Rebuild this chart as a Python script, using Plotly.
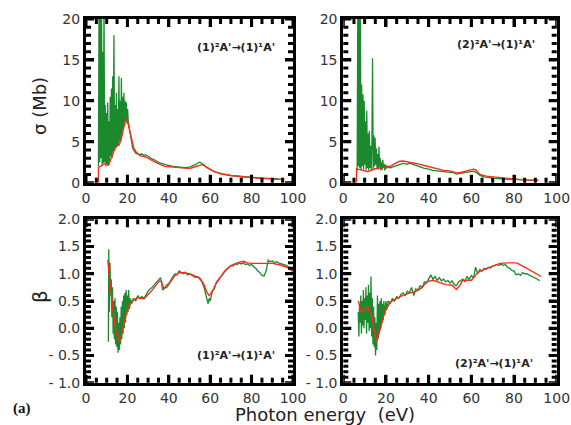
import plotly.graph_objects as go

W, H = 571, 425

# ---------- sigma, (1)2A' -> (1)1A' ----------
s1_green_x = [6.0, 6.3, 6.6, 6.9, 7.2, 7.5, 7.8, 8.1, 8.4, 8.7, 9.0, 9.3, 9.6, 9.9, 10.2, 10.5, 10.8, 11.1,
              11.4, 11.7, 12.0, 12.3, 12.6, 12.9, 13.2, 13.5, 13.8, 14.1, 14.4, 14.7, 15.0, 15.3, 15.6, 15.9,
              16.2, 16.5, 16.8, 17.1, 17.4, 17.7, 18.0, 18.3, 18.6, 18.9, 19.2, 19.5, 19.8, 20.1, 20.4, 20.7,
              21.0, 21.3, 21.6, 22.0, 22.5, 23, 23.5, 24, 25, 26, 27, 28, 29, 30, 31, 32, 33, 34, 35, 36, 37,
              38, 39, 40, 42, 44, 46, 48, 50, 52, 53, 54, 55, 56, 57, 58, 60, 62, 64, 66, 68, 70, 75, 80, 85,
              90, 93]
s1_green_y = [2.0, 22, 2.5, 21, 3.0, 22, 2.2, 16, 2.4, 22, 2.5, 9.5, 2.0, 8.5, 2.3, 9.8, 2.1, 7.5,
              2.6, 10.5, 3.2, 11.5, 3.0, 13.0, 3.8, 18.0, 4.0, 9.5, 4.2, 11.0, 4.5, 9.0, 4.5, 13.0,
              5.0, 10.0, 5.2, 12.8, 5.8, 10.5, 6.5, 11.0, 7.0, 10.0, 7.5, 9.8, 7.2, 9.0, 7.5, 7.0,
              6.8, 5.8, 5.5, 4.8, 4.3, 4.0, 3.8, 3.6, 3.5, 3.45, 3.5, 3.35, 3.4, 3.2, 3.1, 2.9, 2.8, 2.6, 2.5,
              2.4, 2.3, 2.2, 2.15, 2.1, 2.0, 1.95, 1.9, 1.85, 1.9, 2.05, 2.2, 2.4, 2.5, 2.35, 2.2, 1.9, 1.6,
              1.35, 1.2, 1.05, 0.95, 0.88, 0.75, 0.62, 0.55, 0.5, 0.48]
s1_red_x = [6.0, 6.0, 7, 8, 9, 10, 10.5, 11, 12, 13, 14, 15, 16, 17, 18, 19, 19.5, 20, 21, 22, 23, 24, 25,
            26, 28, 30, 32, 34, 36, 38, 40, 43, 46, 49, 51, 53, 55, 56, 57, 58, 60, 62, 65, 68, 70, 75, 80,
            85, 90, 95]
s1_red_y = [0, 1.9, 2.0, 2.2, 2.35, 2.3, 2.15, 2.2, 2.8, 3.6, 4.2, 4.5, 4.6, 5.3, 6.5, 7.6, 7.8, 7.6, 6.5,
            5.3, 4.3, 3.8, 3.5, 3.3, 3.2, 3.0, 2.7, 2.4, 2.2, 2.0, 1.95, 1.85, 1.75, 1.75, 1.8, 1.95, 2.15,
            2.2, 2.1, 1.95, 1.6, 1.35, 1.1, 0.95, 0.88, 0.72, 0.6, 0.5, 0.45, 0.42]

# ---------- sigma, (2)2A' -> (1)1A' ----------
s2_green_x = [6.5, 6.8, 7.1, 7.4, 7.7, 8.0, 8.3, 8.6, 8.9, 9.2, 9.5, 9.8, 10.1, 10.4, 10.7, 11.0, 11.3,
              11.6, 11.9, 12.2, 12.5, 12.8, 13.1, 13.4, 13.7, 14.0, 14.3, 14.6, 14.9, 15.2, 15.5, 15.8,
              16.1, 16.4, 16.7, 17.0, 17.3, 17.6, 17.9, 18.2, 18.5, 18.8, 19.1, 19.4, 19.7, 20.0, 20.5,
              21, 21.5, 22, 23, 24, 25, 26, 27, 28, 29, 30, 31, 32, 33, 34, 35, 36, 38, 40, 42, 44, 46,
              48, 50, 52, 53, 54, 56, 58, 60, 61, 62, 64, 66, 68, 70, 75, 80, 85, 90]
s2_green_y = [1.5, 22, 2.0, 22, 1.8, 22, 1.5, 12.0, 2.0, 10.8, 1.6, 10.0, 2.2, 7.5, 1.5, 8.8, 1.8,
              6.0, 1.5, 6.3, 1.8, 4.5, 1.5, 5.0, 15.2, 1.6, 5.8, 2.0, 5.5, 2.2, 4.2, 1.8,
              3.5, 1.6, 4.4, 1.9, 3.0, 1.5, 2.5, 1.6, 2.8, 1.8, 2.3, 1.5, 2.2, 1.7, 2.1,
              1.8, 2.0, 1.8, 1.9, 2.0, 2.1, 2.2, 2.3, 2.35, 2.3, 2.25, 2.4, 2.3, 2.15, 2.05, 1.95, 1.85,
              1.75, 1.65, 1.5, 1.45, 1.4, 1.35, 1.3, 1.2, 1.05, 1.1, 1.2, 1.3, 1.4, 1.42, 1.3, 0.9, 0.72,
              0.62, 0.55, 0.45, 0.38, 0.32, 0.28]
s2_red_x = [6.2, 6.2, 8, 10, 11.5, 13, 15, 17, 20, 22, 24, 26, 28, 30, 32, 35, 38, 41, 44, 47, 50, 53,
            55, 58, 61, 62, 64, 67, 70, 75, 80, 85, 91.5]
s2_red_y = [0, 1.7, 1.6, 1.45, 1.35, 1.5, 1.7, 1.8, 1.9, 2.0, 2.3, 2.6, 2.65, 2.55, 2.5, 2.3, 2.1, 1.9,
            1.65, 1.5, 1.45, 1.2, 1.25, 1.45, 1.65, 1.6, 1.0, 0.8, 0.7, 0.55, 0.45, 0.35, 0.3]

# ---------- beta, (1)2A' -> (1)1A' ----------
b1_green_x = [10.8, 11.0, 11.3, 11.6, 11.9, 12.2, 12.5, 12.8, 13.1, 13.4, 13.7, 14.0, 14.3, 14.6, 14.9,
              15.2, 15.5, 15.8, 16.1, 16.4, 16.7, 17.0, 17.3, 17.6, 17.9, 18.2, 18.5, 18.8, 19.1, 19.4,
              19.7, 20.0, 20.3, 20.6, 21.0, 21.5, 22, 23, 24, 25, 26, 27, 28, 29, 30, 31, 32, 33, 34, 35,
              36, 36.5, 37, 37.5, 38, 39, 40, 41, 42, 43, 44, 45, 46, 47, 48, 49, 50, 51, 52, 53, 54, 55,
              56, 57, 58, 59, 59.5, 60, 61, 62, 63, 64, 65, 66, 67, 68, 69, 70, 71, 72, 73, 74, 75, 76, 77,
              78, 79, 80, 81, 82, 83, 84, 85, 86, 87, 88, 89, 90, 91, 92, 93, 94, 95, 96, 97, 98, 99, 100]
b1_green_y = [-0.25, 1.45, 0.3, 1.2, 0.6, 0.9, 0.2, 0.75, -0.1, 0.5, -0.2, 0.55, -0.3, 0.4, -0.35,
              0.3, -0.45, 0.1, -0.4, 0.2, -0.3, 0.4, -0.2, 0.5, -0.1, 0.6, 0.0, 0.65, 0.1, 0.7,
              0.25, 0.6, 0.3, 0.7, 0.35, 0.55, 0.45, 0.55, 0.5, 0.6, 0.55, 0.58, 0.55, 0.62, 0.68, 0.72,
              0.75, 0.8, 0.85, 0.9, 0.93, 0.85, 0.7, 0.72, 0.75, 0.8, 0.82, 0.9, 0.95, 1.0, 0.98, 1.05,
              1.02, 1.0, 1.03, 0.98, 1.0, 0.97, 0.95, 0.93, 0.95, 0.9, 0.85, 0.75, 0.6, 0.45, 0.55, 0.5,
              0.68, 0.72, 0.85, 0.9, 0.95, 1.0, 1.05, 1.08, 1.12, 1.15, 1.14, 1.18, 1.17, 1.2, 1.18, 1.2,
              1.17, 1.18, 1.15, 1.17, 1.13, 1.1, 1.05, 1.02, 0.97, 0.96, 1.05, 1.25, 1.22, 1.24, 1.2,
              1.22, 1.2, 1.19, 1.18, 1.17, 1.15, 1.12, 1.08, 1.05]
b1_red_x = [10.5, 11, 12, 13, 14, 15, 16, 17, 18, 19, 20, 21, 22, 23, 25, 27, 28, 30, 32, 34, 35.5, 36.5,
            37.5, 39, 41, 43, 45, 47, 50, 53, 55, 57, 58.5, 59.5, 61, 63, 65, 67, 70, 73, 76, 78, 80, 85,
            90, 94, 97, 100]
b1_red_y = [1.25, 1.05, 0.7, 0.35, 0.05, -0.15, -0.25, -0.15, 0.05, 0.2, 0.33, 0.42, 0.48, 0.52, 0.56,
            0.55, 0.54, 0.62, 0.7, 0.8, 0.87, 0.85, 0.73, 0.75, 0.85, 0.97, 1.02, 1.02, 1.0, 0.96, 0.92,
            0.8, 0.65, 0.6, 0.68, 0.83, 0.95, 1.05, 1.15, 1.2, 1.23, 1.2, 1.19, 1.19, 1.19, 1.16, 1.12,
            1.04]

# ---------- beta, (2)2A' -> (1)1A' ----------
b2_green_x = [7.0, 7.3, 7.6, 7.9, 8.2, 8.5, 8.8, 9.1, 9.4, 9.7, 10.0, 10.3, 10.6, 10.9, 11.2, 11.5, 11.8,
              12.1, 12.4, 12.7, 13.0, 13.3, 13.6, 13.9, 14.2, 14.5, 14.8, 15.1, 15.4, 15.7, 16.0, 16.3,
              16.6, 16.9, 17.2, 17.5, 17.8, 18.1, 18.4, 18.7, 19.0, 19.5, 20.0, 20.5, 21, 22, 23, 24, 25,
              26, 27, 28, 29, 30, 31, 32, 33, 34, 35, 36, 37, 38, 39, 40, 41, 42, 43, 44, 45, 46, 47, 48,
              49, 50, 51, 52, 53, 54, 55, 56, 57, 58, 59, 60, 61, 62, 63, 64, 65, 66, 67, 68, 69, 70, 71,
              72, 73, 74, 75, 76, 77, 78, 79, 80, 81, 82, 83, 84, 85, 86, 87, 88, 89, 90, 91, 92]
b2_green_y = [0.3, -0.15, 0.45, 0.1, 0.6, -0.1, 0.5, 0.05, 0.7, 0.0, 0.55, 0.15, 0.75, -0.1, 0.6, 0.1,
              0.8, -0.05, 0.65, 0.0, 0.95, -0.15, 0.55, -0.3, 0.4, -0.35, 0.2, -0.5, 0.1, -0.4, 0.6,
              -0.2, 0.45, -0.1, 0.5, 0.0, 0.55, 0.1, 0.45, 0.15, 0.5, 0.25, 0.5, 0.35, 0.5, 0.45, 0.55,
              0.5, 0.58, 0.55, 0.62, 0.65, 0.6, 0.68, 0.65, 0.75, 0.6, 0.72, 0.7, 0.78, 0.75, 0.85, 0.83,
              0.9, 0.98, 0.9, 0.95, 0.88, 0.93, 0.87, 0.9, 0.85, 0.88, 0.83, 0.87, 0.8, 0.78, 0.85, 0.88,
              0.9, 0.85, 0.95, 0.9, 0.97, 0.92, 1.12, 1.0, 1.08, 1.05, 1.1, 1.08, 1.12, 1.1, 1.14, 1.15,
              1.17, 1.15, 1.18, 1.15, 1.17, 1.12, 1.1, 1.06, 1.05, 0.98, 1.0, 0.97, 1.02, 1.0, 1.0, 0.98,
              0.96, 0.95, 0.92, 0.9, 0.87]
b2_red_x = [7.0, 8.6, 10, 11.3, 13.3, 14.5, 15.6, 17.2, 19.5, 21.9, 26.6, 30.5, 34.4, 37, 39, 42, 45, 48,
            51, 53, 54.5, 56, 60, 63.3, 67.2, 70.3, 73.4, 77, 81.3, 86, 92.7]
b2_red_y = [0.5, 0.29, 0.35, 0.4, 0.24, 0.0, -0.25, -0.03, 0.3, 0.48, 0.58, 0.64, 0.68, 0.75, 0.85, 0.88,
            0.84, 0.8, 0.79, 0.71, 0.78, 0.88, 0.88, 1.03, 1.1, 1.15, 1.19, 1.2, 1.2, 1.1, 0.95]

b_tickvals = [-1.0, -0.5, 0.0, 0.5, 1.0, 1.5, 2.0]
b_ticktext = ["- 1.0", "- 0.5", "0.0", "0.5", "1.0", "1.5", "2.0"]

# tick-mark positions (major, minor) for each axis kind
x_major_ticks = [0, 20, 40, 60, 80, 100]
x_minor_ticks = [5, 10, 15, 25, 30, 35, 45, 50, 55, 65, 70, 75, 85, 90, 95]
s_major_ticks = [0, 5, 10, 15, 20]
s_minor_ticks = [1, 2, 3, 4, 6, 7, 8, 9, 11, 12, 13, 14, 16, 17, 18, 19]
b_major_ticks = [-1.0, -0.5, 0.0, 0.5, 1.0, 1.5, 2.0]
b_minor_ticks = [-0.9, -0.8, -0.7, -0.6, -0.4, -0.3, -0.2, -0.1, 0.1, 0.2, 0.3, 0.4, 0.6, 0.7, 0.8,
                 0.9, 1.1, 1.2, 1.3, 1.4, 1.6, 1.7, 1.8, 1.9]

GREEN = "#1b8a2e"
RED = "#ff2a1a"

fig = go.Figure()
panels = [
    ("x", "y", s1_green_x, s1_green_y, s1_red_x, s1_red_y),
    ("x2", "y2", s2_green_x, s2_green_y, s2_red_x, s2_red_y),
    ("x3", "y3", b1_green_x, b1_green_y, b1_red_x, b1_red_y),
    ("x4", "y4", b2_green_x, b2_green_y, b2_red_x, b2_red_y),
]
for xa, ya, gx, gy, rx, ry in panels:
    fig.add_trace(go.Scatter(x=gx, y=gy, mode="lines", line=dict(color=GREEN, width=1.3),
                             xaxis=xa, yaxis=ya, showlegend=False))
    fig.add_trace(go.Scatter(x=rx, y=ry, mode="lines", line=dict(color=RED, width=1.4),
                             xaxis=xa, yaxis=ya, showlegend=False))

tickfont = dict(family="DejaVu Sans", size=14, color="#333333")
base = dict(showline=True, linewidth=3, linecolor="black", showgrid=False, zeroline=False,
            ticks="inside", mirror="allticks", ticklen=8, tickwidth=3, tickcolor="black",
            tickfont=tickfont, automargin=False)


def xaxis(domain, anchor):
    return dict(domain=domain, anchor=anchor, range=[0, 100], tick0=0, dtick=20, **base)


def ysig(domain, anchor):
    return dict(domain=domain, anchor=anchor, range=[0, 20], tick0=0, dtick=5, **base)


def ybeta(domain, anchor):
    return dict(domain=domain, anchor=anchor, range=[-1, 2], tickmode="array",
                tickvals=b_tickvals, ticktext=b_ticktext, **base)


XL = [86 / W, 293 / W]
XR = [343.3 / W, 556.7 / W]
YT = [1 - 182.7 / H, 1 - 19 / H]
YB = [1 - 382.7 / H, 1 - 219.3 / H]

fig.update_layout(
    width=W, height=H, autosize=False,
    margin=dict(l=0, r=0, t=0, b=0),
    font=dict(family="DejaVu Sans", size=14, color="#333333"),
    plot_bgcolor="white",
    xaxis=xaxis(XL, "y"), yaxis=ysig(YT, "x"),
    xaxis2=xaxis(XR, "y2"), yaxis2=ysig(YT, "x2"),
    xaxis3=xaxis(XL, "y3"), yaxis3=ybeta(YB, "x3"),
    xaxis4=xaxis(XR, "y4"), yaxis4=ybeta(YB, "x4"),
)

# Inward tick marks on all four sides of every panel, drawn as line shapes
MAJ, MIN = 8.0, 5.0
tick_line = dict(color="black", width=3)
subplots = [
    ("x", "y", XL, YT, s_major_ticks, s_minor_ticks),
    ("x2", "y2", XR, YT, s_major_ticks, s_minor_ticks),
    ("x3", "y3", XL, YB, b_major_ticks, b_minor_ticks),
    ("x4", "y4", XR, YB, b_major_ticks, b_minor_ticks),
]
for xa, ya, xd, yd, ymaj, ymin in subplots:
    wpx = (xd[1] - xd[0]) * W
    hpx = (yd[1] - yd[0]) * H
    for vals, ln in ((x_major_ticks, MAJ), (x_minor_ticks, MIN)):
        f = ln / hpx
        for v in vals:
            fig.add_shape(type="line", xref=xa, yref=ya + " domain", x0=v, x1=v, y0=0, y1=f,
                          line=tick_line)
            fig.add_shape(type="line", xref=xa, yref=ya + " domain", x0=v, x1=v, y0=1, y1=1 - f,
                          line=tick_line)
    for vals, ln in ((ymaj, MAJ), (ymin, MIN)):
        f = ln / wpx
        for v in vals:
            fig.add_shape(type="line", xref=xa + " domain", yref=ya, x0=0, x1=f, y0=v, y1=v,
                          line=tick_line)
            fig.add_shape(type="line", xref=xa + " domain", yref=ya, x0=1, x1=1 - f, y0=v, y1=v,
                          line=tick_line)

lab_font = dict(family="DejaVu Sans", size=11, color="#222222")
labels = [
    ("<b>(1)²A'→(1)¹A'</b>", 236, 47),
    ("<b>(2)²A'→(1)¹A'</b>", 496, 45),
    ("<b>(1)²A'→(1)¹A'</b>", 236, 355),
    ("<b>(2)²A'→(1)¹A'</b>", 494, 363),
]
for t, px, py in labels:
    fig.add_annotation(text=t, x=px / W, y=1 - py / H, xref="paper", yref="paper",
                       showarrow=False, font=lab_font, xanchor="center", yanchor="middle")

fig.add_annotation(text="σ (Mb)", x=40 / W, y=1 - 106 / H, xref="paper", yref="paper",
                   showarrow=False, textangle=-90, xanchor="center", yanchor="middle",
                   font=dict(family="DejaVu Sans", size=18, color="#222222"))
fig.add_annotation(text="β", x=40 / W, y=1 - 297 / H, xref="paper", yref="paper",
                   showarrow=False, textangle=-90, xanchor="center", yanchor="middle",
                   font=dict(family="DejaVu Sans", size=20, color="#222222"))
fig.add_annotation(text="Photon energy  (eV)", x=325 / W, y=1 - 414 / H, xref="paper", yref="paper",
                   showarrow=False, xanchor="center", yanchor="middle",
                   font=dict(family="DejaVu Sans", size=18, color="#222222"))
fig.add_annotation(text="<b>(a)</b>", x=22 / W, y=1 - 408 / H, xref="paper", yref="paper",
                   showarrow=False, xanchor="center", yanchor="middle",
                   font=dict(family="Liberation Serif", size=15, color="#111111"))

fig.write_html("out.html", config={"displayModeBar": False},
               post_script="document.body.style.margin='0';document.body.style.padding='0';")
